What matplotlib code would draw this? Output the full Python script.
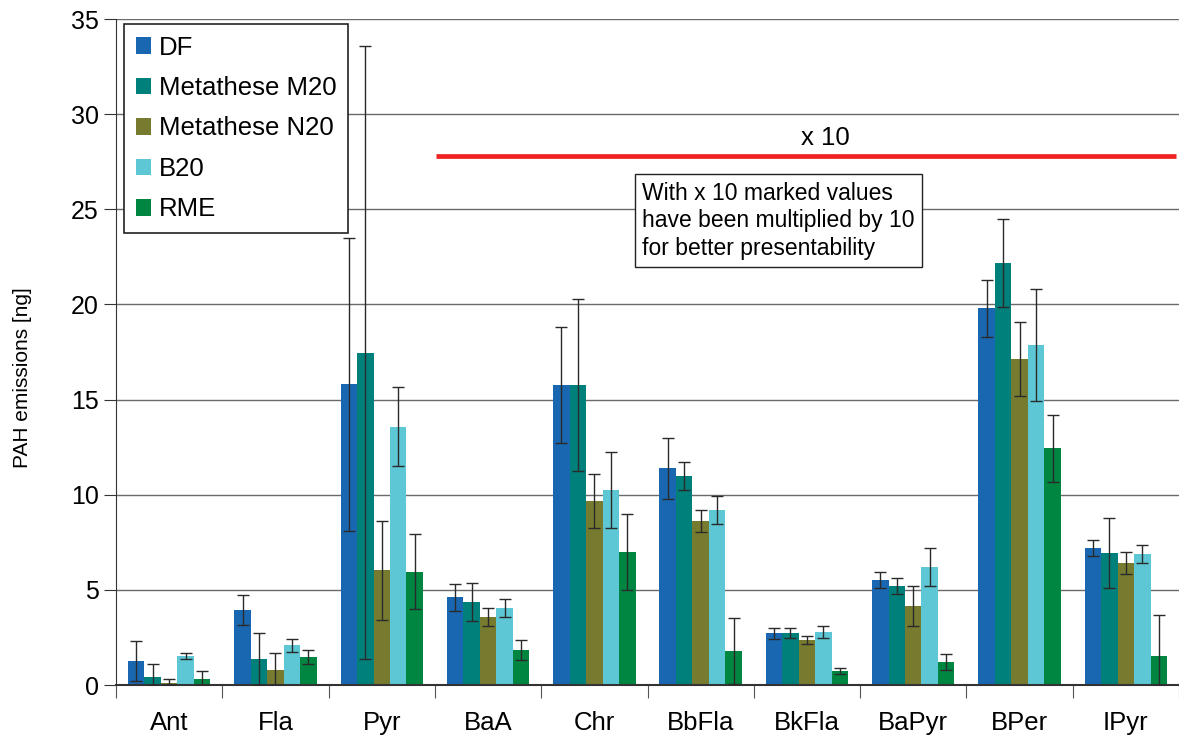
import numpy as np
import matplotlib
matplotlib.use("Agg")
import matplotlib.pyplot as plt
from matplotlib.patches import Patch

plt.rcParams["font.family"] = ["Liberation Sans", "DejaVu Sans"]

categories = ["Ant", "Fla", "Pyr", "BaA", "Chr", "BbFla", "BkFla", "BaPyr", "BPer", "IPyr"]
series = ["DF", "Metathese M20", "Metathese N20", "B20", "RME"]
colors = ["#1a67b1", "#00807a", "#767b30", "#5ec7d6", "#008641"]

df = [1.26, 3.94, 15.8, 4.62, 15.76, 11.4, 2.73, 5.52, 19.81, 7.2]
m20 = [0.42, 1.37, 17.46, 4.36, 15.76, 10.98, 2.73, 5.2, 22.17, 6.94]
n20 = [0.1, 0.79, 6.03, 3.57, 9.67, 8.62, 2.36, 4.15, 17.13, 6.41]
b20 = [1.52, 2.1, 13.57, 4.05, 10.25, 9.2, 2.78, 6.2, 17.87, 6.88]
rme = [0.32, 1.47, 5.96, 1.84, 6.99, 1.79, 0.74, 1.21, 12.45, 1.52]

df_err = [1.05, 0.78, 7.7, 0.71, 3.06, 1.6, 0.29, 0.4, 1.5, 0.4]
m20_err = [0.7, 1.38, 16.1, 0.99, 4.53, 0.74, 0.27, 0.43, 2.3, 1.83]
n20_err = [0.2, 0.88, 2.6, 0.48, 1.43, 0.57, 0.22, 1.06, 1.96, 0.6]
b20_err = [0.14, 0.34, 2.08, 0.46, 2.0, 0.75, 0.31, 0.98, 2.93, 0.46]
rme_err = [0.4, 0.35, 1.97, 0.53, 2.0, 1.74, 0.16, 0.4, 1.76, 2.14]

values = [df, m20, n20, b20, rme]
errors = [df_err, m20_err, n20_err, b20_err, rme_err]

fig = plt.figure(figsize=(11.79, 7.40), dpi=100)
ax = fig.add_axes([0.0984, 0.0743, 0.9016, 0.9])

x = np.arange(len(categories))
width = 0.155
for i, (vals, errs) in enumerate(zip(values, errors)):
    pos = x + (i - 2) * width
    ax.bar(pos, vals, width, color=colors[i], zorder=2)
    lower = np.minimum(errs, vals)
    ax.errorbar(pos, vals, yerr=[lower, errs], fmt="none", ecolor="#2a2a2a",
                elinewidth=1.0, capsize=4, capthick=1.0, zorder=3)

ax.set_ylim(0, 35)
ax.set_xlim(-0.5, 9.47)
ax.set_yticks(np.arange(0, 36, 5))
ax.yaxis.grid(True, color="#6a6a6a", linewidth=1.0, zorder=0)
ax.set_axisbelow(True)

# category boundaries as ticks, labels at centres
ax.set_xticks(np.arange(-0.5, 10, 1.0))
ax.set_xticklabels([])
ax.set_xticks(x, minor=True)
ax.set_xticklabels(categories, minor=True, fontsize=18.5)
ax.tick_params(axis="x", which="minor", length=0, pad=19)
ax.tick_params(axis="x", which="major", length=9, color="#555555")
ax.tick_params(axis="y", length=9, labelsize=18, color="#333333")

for side in ["top", "right"]:
    ax.spines[side].set_visible(False)
ax.spines["left"].set_color("#333333")
ax.spines["bottom"].set_color("#333333")
ax.spines["bottom"].set_linewidth(1.5)

ax.set_ylabel("PAH emissions [ng]", fontsize=15)
ax.yaxis.set_label_coords(-0.079, 0.461)

handles = [Patch(facecolor=c) for c in colors]
leg = ax.legend(handles, series, loc="upper left", bbox_to_anchor=(0.0075, 0.9925),
                fontsize=18.5, frameon=True, fancybox=False, edgecolor="#222222",
                handlelength=0.62, handleheight=0.62, handletextpad=0.3,
                labelspacing=0.64, borderpad=0.45, borderaxespad=0)
leg.get_frame().set_linewidth(1.2)
leg.get_frame().set_alpha(1.0)

ax.plot([2.51, 9.47], [27.8, 27.8], color="#ee2222", linewidth=3.4, zorder=4,
        solid_capstyle="butt", clip_on=False)
ax.text(6.17, 28.74, "x 10", fontsize=18.5, ha="center", va="center")
ax.text(4.45, 26.45, "With x 10 marked values\nhave been multiplied by 10\nfor better presentability",
        fontsize=16.5, ha="left", va="top", linespacing=1.25,
        bbox=dict(boxstyle="square,pad=0.32", facecolor="white", edgecolor="#222222", linewidth=1.0))

fig.savefig("out.png", dpi=100)
